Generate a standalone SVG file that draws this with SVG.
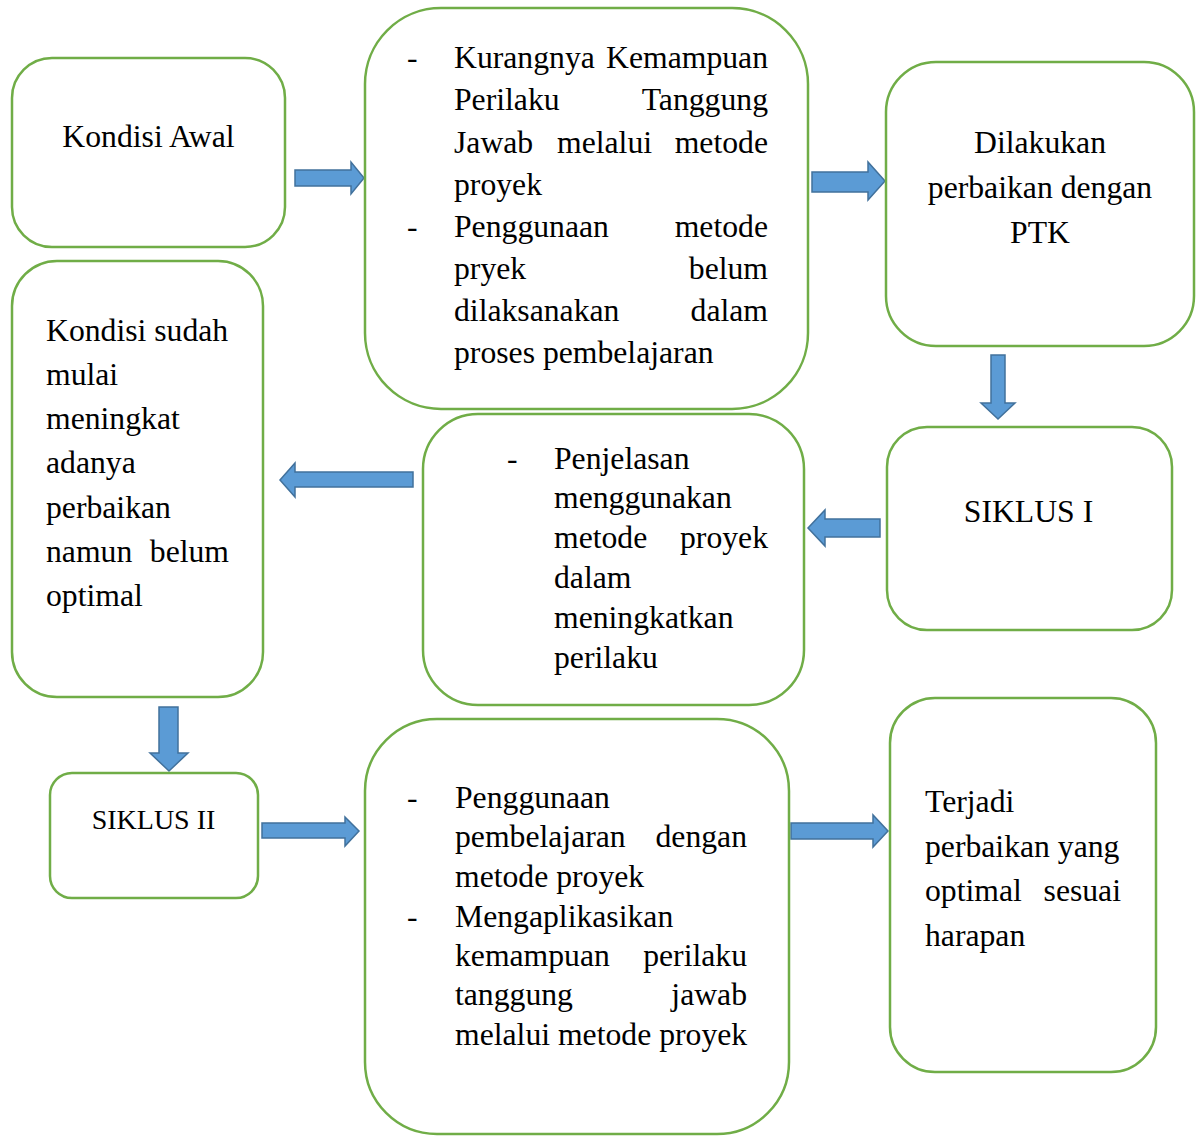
<svg xmlns="http://www.w3.org/2000/svg" width="1197" height="1136" viewBox="0 0 1197 1136">
<style>
.box{fill:#ffffff;stroke:#70AD47;stroke-width:2.5}
.arr{fill:#5B9BD5;stroke:#41719C;stroke-width:1.5;stroke-linejoin:miter}
text{font-family:"Liberation Serif","Times New Roman",serif;font-size:31.7px;fill:#000}
.m{text-anchor:middle}
.e{text-anchor:end}
.s28{font-size:28px}
</style>
<rect width="1197" height="1136" fill="#ffffff"/>
<g id="connectors">
<polygon class="arr" points="295,170 351,170 351,162 364,178 351,194 351,186 295,186"/>
<polygon class="arr" points="812,172 868,172 868,162 885,181 868,200 868,192 812,192"/>
<polygon class="arr" points="991,355 1005,355 1005,403 1015,403 998,419 981,403 991,403"/>
<polygon class="arr" points="413,472 295,472 295,463 280,480 295,497 295,487 413,487"/>
<polygon class="arr" points="880,519 825,519 825,510 808,528 825,546 825,537 880,537"/>
<polygon class="arr" points="159,707 178,707 178,753 188,753 169,771 150,753 159,753"/>
<polygon class="arr" points="262,823 345,823 345,817 359,831 345,846 345,838 262,838"/>
<polygon class="arr" points="791,823 873,823 873,815 888,831 873,847 873,839 791,839"/>
</g>
<g id="kondisi-awal">
<rect class="box" x="12" y="58" width="273" height="189" rx="40"/>
<text class="m" x="148.5" y="147">Kondisi Awal</text>
</g>
<g id="masalah">
<rect class="box" x="365" y="8" width="443" height="401" rx="76"/>
<text x="407" y="68">-</text>
<text x="454" y="68">Kurangnya</text><text class="e" x="768" y="68">Kemampuan</text>
<text x="454" y="110">Perilaku</text><text class="e" x="768" y="110">Tanggung</text>
<text x="454" y="153">Jawab</text><text x="557" y="153">melalui</text><text class="e" x="768" y="153">metode</text>
<text x="454" y="195">proyek</text>
<text x="407" y="237">-</text>
<text x="454" y="237">Penggunaan</text><text class="e" x="768" y="237">metode</text>
<text x="454" y="279">pryek</text><text class="e" x="768" y="279">belum</text>
<text x="454" y="321">dilaksanakan</text><text class="e" x="768" y="321">dalam</text>
<text x="454" y="363">proses pembelajaran</text>
</g>
<g id="perbaikan-ptk">
<rect class="box" x="886" y="62" width="308" height="284" rx="50"/>
<text class="m" x="1040" y="153">Dilakukan</text>
<text class="m" x="1040" y="198">perbaikan dengan</text>
<text class="m" x="1040" y="243">PTK</text>
</g>
<g id="kondisi-sudah">
<rect class="box" x="12" y="261" width="251" height="436" rx="45"/>
<text x="46" y="341">Kondisi sudah</text>
<text x="46" y="385">mulai</text>
<text x="46" y="429">meningkat</text>
<text x="46" y="473">adanya</text>
<text x="46" y="518">perbaikan</text>
<text x="46" y="562">namun</text><text class="e" x="229" y="562">belum</text>
<text x="46" y="606">optimal</text>
</g>
<g id="penjelasan">
<rect class="box" x="423" y="414" width="381" height="291" rx="55"/>
<text x="507" y="469">-</text>
<text x="554" y="469">Penjelasan</text>
<text x="554" y="508">menggunakan</text>
<text x="554" y="548">metode</text><text class="e" x="768" y="548">proyek</text>
<text x="554" y="588">dalam</text>
<text x="554" y="628">meningkatkan</text>
<text x="554" y="668">perilaku</text>
</g>
<g id="siklus-1">
<rect class="box" x="887" y="427" width="285" height="203" rx="40"/>
<text class="m" x="1028.5" y="522">SIKLUS I</text>
</g>
<g id="siklus-2">
<rect class="box" x="50" y="773" width="208" height="125" rx="22"/>
<text class="m s28" x="153.5" y="829">SIKLUS II</text>
</g>
<g id="penggunaan">
<rect class="box" x="365" y="719" width="424" height="415" rx="72"/>
<text x="407" y="808">-</text>
<text x="455" y="808">Penggunaan</text>
<text x="455" y="847">pembelajaran</text><text class="e" x="747" y="847">dengan</text>
<text x="455" y="887">metode proyek</text>
<text x="407" y="927">-</text>
<text x="455" y="927">Mengaplikasikan</text>
<text x="455" y="966">kemampuan</text><text class="e" x="747" y="966">perilaku</text>
<text x="455" y="1005">tanggung</text><text class="e" x="747" y="1005">jawab</text>
<text x="455" y="1045">melalui metode proyek</text>
</g>
<g id="terjadi">
<rect class="box" x="890" y="698" width="266" height="374" rx="45"/>
<text x="925" y="812">Terjadi</text>
<text x="925" y="857">perbaikan yang</text>
<text x="925" y="901">optimal</text><text class="e" x="1121" y="901">sesuai</text>
<text x="925" y="946">harapan</text>
</g>
</svg>
